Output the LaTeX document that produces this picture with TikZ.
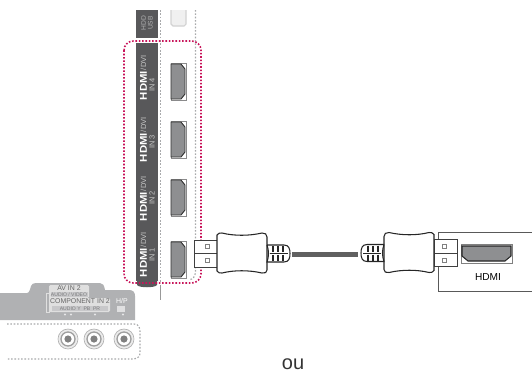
\documentclass[tikz,border=0pt]{standalone}
\usepackage{fontspec}
\setmainfont{Liberation Sans}
\definecolor{stripgray}{HTML}{58585A}
\definecolor{panelgray}{HTML}{B0B1B3}
\definecolor{portgray}{HTML}{8E8F91}
\definecolor{dotgray}{HTML}{A8A9AB}
\definecolor{boxred}{HTML}{C8145A}
\tikzset{
  every node/.style={inner sep=0pt,outer sep=0pt},
  hdmilogo/.style={rotate=90,anchor=west,white,font=\fontsize{7.4}{7.4}\selectfont\bfseries,xscale=1.15},
  dvilabel/.style={rotate=90,anchor=west,gray!45,font=\fontsize{5.6}{6}\selectfont},
  inlabel/.style={rotate=90,gray!45,font=\fontsize{5.6}{6}\selectfont},
  panellabel/.style={white,font=\fontsize{5.2}{6}\selectfont},
  sublabel/.style={panelgray!70!black,font=\fontsize{3.8}{4}\selectfont},
  guide/.style={dotgray,line width=.9pt,dash pattern=on 1.2pt off 1.3pt},
  jack/.pic={
    \draw[gray!60,line width=.5pt,fill=gray!15] (0,0) circle (10);
    \draw[gray!75,line width=1pt,fill=white] (0,0) circle (7);
    \fill[gray] (0,0) circle (3.6);
  },
  sideport/.pic={
    \draw[stripgray!70,line width=.7pt,fill=white] (0,0) rectangle (15,37);
    \draw[black!80,line width=.7pt,fill=portgray] (0,1) -- (10,1) -- (14,6) -- (14,31) -- (10,36) -- (0,36) -- cycle;
  },
  plug/.pic={
    \draw[black!75,line width=.7pt,fill=white] (0,0) rectangle (23,27);
    \draw[black!75,line width=.7pt] (0,13.5) -- (23,13.5);
    \draw[gray,line width=.4pt] (11,4.5) rectangle ++(4,4) (11,18.5) rectangle ++(4,4);
    \draw[black!85,line width=.8pt,fill=white] (23,-5) .. controls (24,-7) and (26,-7) .. (28,-7)
      .. controls (40,-4) and (55,-4) .. (68,-7) .. controls (71,-7) and (73,-6) .. (73,-3)
      -- (73,30) .. controls (73,33) and (71,33) .. (68,33)
      .. controls (55,30) and (40,30) .. (28,33) .. controls (26,33) and (24,33) .. (23,31) -- cycle;
    \draw[black!85,line width=.8pt,fill=white] (73,5) -- (90,5) .. controls (95,5) and (96,9) .. (96,13.5)
      .. controls (96,18) and (95,22) .. (90,22) -- (73,22) .. controls (75,16) and (75,11) .. (73,5);
    \draw[black!85,line width=1pt] (79,6) -- (79,12) (84,6) -- (84,12) (89,6) -- (89,12)
      (79,15) -- (79,21) (84,15) -- (84,21) (89,15) -- (89,21);
    \draw[black!85,line width=.5pt] (76,13.5) -- (94,13.5);
  },
}
\begin{document}
\begin{tikzpicture}[x=.75pt,y=-.75pt]
  \useasboundingbox (0,0) rectangle (532,376);

  \fill[stripgray] (136,10) rectangle (158,38);
  \fill[stripgray] (136,43) rectangle (158,281);
  \fill[stripgray] (137,281) -- (157,281) -- (157,285) .. controls (155,288) and (139,288) .. (137,285) -- cycle;
  \node[rotate=90,gray!60,font=\fontsize{5}{5}\selectfont,align=center] (usbtext) at (147,23) {HDD\\USB};
  \draw[gray!35,line width=.8pt,fill=gray!12] (171,10) -- (171,24) -- (173,26) -- (184,26) -- (186,24) -- (186,10);

  \draw[guide] (160.5,10) -- (160.5,282);
  \draw[gray!80,line width=.8pt] (160.5,285) -- (160.5,300);
  \draw[guide] (195.5,10) -- (195.5,270) .. controls (195.5,277) and (193,279) .. (189,280);

  \node[hdmilogo] (logofour) at (143.5,100) {HDMI};
  \node[dvilabel] (dvifour) at (143.5,70) {/DVI};
  \node[inlabel] (infour) at (152,85) {IN 4};
  \node[hdmilogo] (logothree) at (143.5,162) {HDMI};
  \node[dvilabel] (dvithree) at (143.5,132) {/DVI};
  \node[inlabel] (inthree) at (152,142) {IN 3};
  \node[hdmilogo] (logotwo) at (143.5,221) {HDMI};
  \node[dvilabel] (dvitwo) at (143.5,191) {/DVI};
  \node[inlabel] (intwo) at (152,198) {IN 2};
  \node[hdmilogo] (logoone) at (143.5,277) {HDMI};
  \node[dvilabel] (dvione) at (143.5,247) {/DVI};
  \node[inlabel] (inone) at (152,255) {IN 1};

  \pic at (171,63) {sideport};
  \pic at (171,121) {sideport};
  \pic at (171,179) {sideport};
  \pic at (171,241) {sideport};

  \draw[boxred,line width=1.2pt,dash pattern=on 1.2pt off 1.3pt,rounded corners=7pt] (124,41) rectangle (201,283);

  \fill[panelgray] (0,293) -- (27,293) .. controls (29,293) and (30,290) .. (31,286) .. controls (32,284) and (33,283) .. (36,283)
    -- (100,283) .. controls (103,283) and (104,285) .. (105,290) -- (129,290) .. controls (133,290) and (135,292) .. (135,296)
    -- (135,320) -- (0,320) -- cycle;
  \fill[gray!25,rounded corners=1pt] (49,285) rectangle (89,298);
  \fill[gray!25,rounded corners=1pt] (49,298) rectangle (110,312);
  \draw[gray!25,line width=.6pt] (46,293) rectangle (49,312);
  \fill[panelgray!70] (51,292) rectangle (88,297);
  \fill[panelgray!70] (52,306) rectangle (108,311);
  \node[font=\fontsize{5.2}{6}\selectfont,gray!80!black] (avlabel) at (69,288.5) {AV IN 2};
  \node[sublabel] (avsub) at (69,294.5) {AUDIO / VIDEO};
  \node[font=\fontsize{5.2}{6}\selectfont,gray!80!black] (complabel) at (80,301.5) {COMPONENT IN 2};
  \node[sublabel] (compsub) at (80,308.5) {AUDIO Y \ PB \ PR};
  \node[panellabel] (hplabel) at (122,301) {H/P};
  \fill[white,opacity=.6] (117,306) rectangle (125,312);
  \fill[white,opacity=.7] (65,314.5) circle (1.2) (71,314.5) circle (1.2) (95,314.5) circle (1.2) (123,314.5) circle (1.2);

  \draw[guide] (7,324) -- (134,324) .. controls (139,324) and (140,328) .. (140,332)
    -- (140,352) .. controls (140,356) and (139,358) .. (134,359) -- (7,359);
  \pic at (68,339) {jack};
  \pic at (94,339) {jack};
  \pic at (124,339) {jack};

  \pic at (194,240) {plug};
  \fill[gray!75!black] (292,252) rectangle (358,256.5);
  \pic[xscale=-1] at (457,239.5) {plug};

  \draw[black!65,line width=.7pt] (438,239) -- (438,232) -- (532,232);
  \draw[black!65,line width=.7pt] (438,267) -- (438,291) -- (532,291);
  \draw[gray,line width=.7pt,fill=white] (461,244) rectangle (512,263);
  \draw[black!85,line width=.8pt,fill=portgray] (462,246) -- (511,246) -- (511,256) -- (505,261) -- (468,261) -- (462,256) -- cycle;
  \node[font=\fontsize{7.6}{8}\selectfont] (hdmilabel) at (488,277) {HDMI};

  \node[font=\fontsize{15}{15}\selectfont,text=black!80] (oulabel) at (293,364) {ou};
\end{tikzpicture}
\end{document}
